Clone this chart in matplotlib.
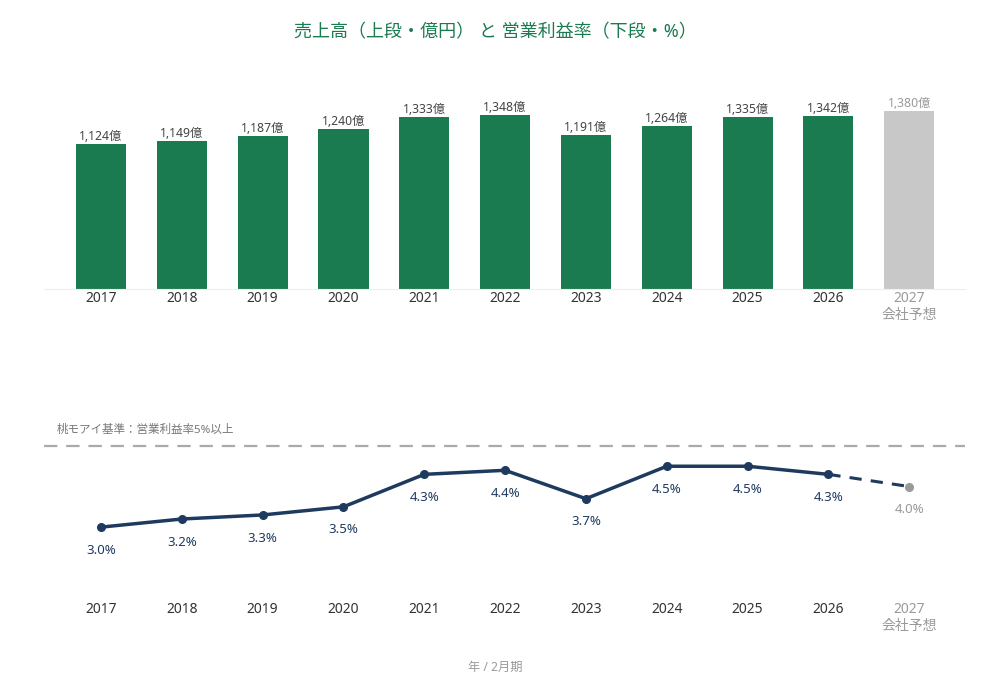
import numpy as np
import matplotlib.pyplot as plt

plt.rcParams['font.family'] = ['Noto Sans', 'Noto Sans CJK JP', 'DejaVu Sans']

# data
years = ['2017', '2018', '2019', '2020', '2021', '2022', '2023', '2024', '2025', '2026', '2027']
sales = [1124, 1149, 1187, 1240, 1333, 1348, 1191, 1264, 1335, 1342, 1380]   # 億円
margin = [3.0, 3.2, 3.3, 3.5, 4.3, 4.4, 3.7, 4.5, 4.5, 4.3, 4.0]            # %
forecast_note = '会社予想'
threshold = 5.0

green = '#1b7b50'
grey_bar = '#c8c8c8'
navy = '#1f3a5f'
grey_txt = '#9a9a9a'

x = np.arange(len(years))
xlim = (-0.705, 10.69)
ticklabels = years[:-1] + [years[-1] + '\n' + forecast_note]

fig = plt.figure(figsize=(9.9, 6.9), dpi=100)
W, H = 990, 690

def add_ax(left, top, right, bottom):
    return fig.add_axes([left / W, 1 - bottom / H, (right - left) / W, (bottom - top) / H])

# title
fig.text(0.5, 1 - 32 / H, '売上高（上段・億円） と 営業利益率（下段・%）',
         ha='center', va='center', fontsize=13, color=green)

# ---- top: sales bars
ax1 = add_ax(44, 60, 965, 289)
colors = [green] * (len(x) - 1) + [grey_bar]
ax1.bar(x, sales, width=0.62, color=colors)
for i, v in enumerate(sales):
    ax1.text(i, v + 8, f'{v:,}億', ha='center', va='bottom', fontsize=8.8,
             color='#999999' if i == len(x) - 1 else '#444444')
ax1.set_xlim(*xlim)
ax1.set_ylim(0, 229 / 0.129)
ax1.set_xticks(x, ticklabels)
ax1.tick_params(axis='x', length=0, pad=1.5, labelsize=10, labelcolor='#333333')
ax1.get_xticklabels()[-1].set_color(grey_txt)
ax1.set_yticks([])
for s in ['top', 'left', 'right']:
    ax1.spines[s].set_visible(False)
ax1.spines['bottom'].set_color('#eeeeee')
ax1.spines['bottom'].set_linewidth(0.8)

# ---- bottom: operating margin line
ax2 = add_ax(44, 420, 965, 600)
ax2.axhline(threshold, color='#aaaaaa', lw=1.6, ls=(0, (6, 4)))
ax2.text(0.014, 5.38, '桃モアイ基準：営業利益率5%以上', transform=ax2.get_yaxis_transform(),
         fontsize=8.3, color='#777777', va='center', ha='left')
ax2.plot(x[:-1], margin[:-1], color=navy, lw=2.5, marker='o', ms=5.5, zorder=3)
ax2.plot(x[-2:], margin[-2:], color=navy, lw=2.2, ls=(0, (4, 3)), zorder=2)
ax2.plot(x[-1], margin[-1], 'o', color=grey_txt, ms=5.5, zorder=3)
for i, v in enumerate(margin):
    ax2.text(i, v - 0.57, f'{v:.1f}%', ha='center', va='center', fontsize=9.5,
             color=grey_txt if i == len(x) - 1 else navy)
ax2.set_xlim(*xlim)
ax2.set_ylim(1.205, 5.639)
ax2.set_xticks(x, ticklabels)
ax2.tick_params(axis='x', length=0, pad=1.5, labelsize=10, labelcolor='#333333')
ax2.get_xticklabels()[-1].set_color(grey_txt)
ax2.set_yticks([])
for s in ax2.spines.values():
    s.set_visible(False)

fig.text(0.5, 1 - 667 / H, '年 / 2月期', ha='center', va='center', fontsize=8.8, color=grey_txt)

fig.savefig('out.png', dpi=100, facecolor='white')
